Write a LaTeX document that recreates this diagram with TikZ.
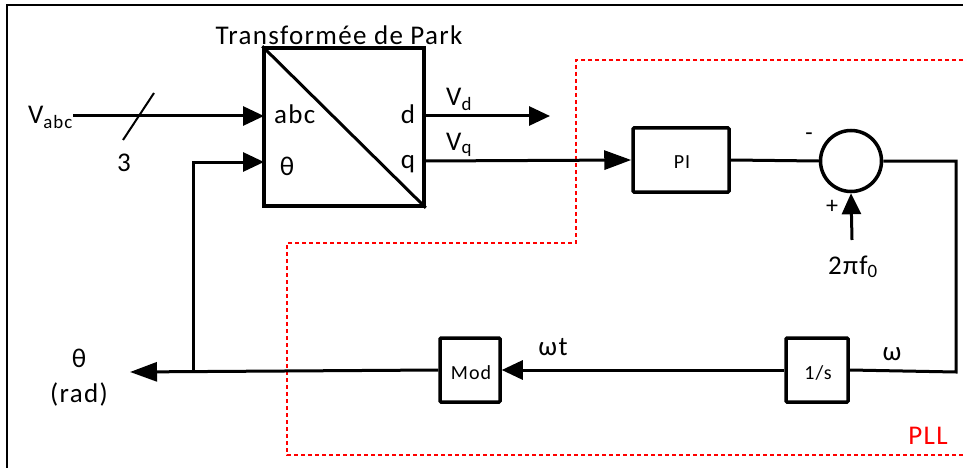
\documentclass[tikz,border=0pt]{standalone}
\usepackage{fontspec}
\setmainfont{Carlito}[LetterSpace=5]
\usetikzlibrary{arrows.meta}
\begin{document}
\begin{tikzpicture}[x=1pt,y=-1pt,
  wire/.style={line width=3pt},
  arr/.style={wire,-{Triangle[length=21pt,width=19pt]}},
  arrlong/.style={wire,-{Triangle[length=27pt,width=19pt]}},
  blk/.style={draw,line width=3.5pt,inner sep=0pt,rounded corners=1pt},
  lbl/.style={font=\fontsize{27}{29}\selectfont,inner sep=0pt,anchor=base},
  small/.style={font=\fontsize{20}{22}\selectfont,inner sep=0pt,anchor=base},
  pll/.style={red,line width=2pt,dash pattern=on 4pt off 3pt}]
\useasboundingbox (0,0) rectangle (963,468);
% frame
\draw[line width=2pt] (7,468) -- (7,5) -- (963,5);
% PLL region
\draw[pll] (963,60) -- (576,60) -- (576,243) -- (287,243) -- (287,455) -- (963,455);
\node[lbl,text=red] (pll) at (928,444) {PLL};
% Park block
\node[draw,line width=3.5pt,inner sep=0pt,minimum width=160pt,minimum height=158pt] (park) at (344,127) {};
\draw[line width=3pt] (park.north west) -- (park.south east);
\node[lbl] (title) at (339,45) {Transformée de Park};
\node[lbl,anchor=base west] (labc) at (274,124) {abc};
\node[lbl] (lth) at (287,175) {θ};
\node[lbl] (ld) at (408,124) {d};
\node[lbl] (lq) at (408,168) {q};
\coordinate (pabc) at (264,116);
\coordinate (pth) at (264,162);
\coordinate (pd) at (424,116);
\coordinate (pq) at (424,161);
% input
\node[lbl,anchor=base east] (vabc) at (73,124) {V\textsubscript{abc}};
\draw[arr] (vabc.east |- pabc) -- (pabc);
\coordinate (s1) at (123,140);
\coordinate (s2) at (154,93);
\draw[line width=2pt] (s1) -- (s2);
\node[lbl] (three) at (124,171) {3};
% d output
\coordinate (dend) at (550,116);
\draw[arr] (pd) -- (dend);
\node[lbl,anchor=base west] (vd) at (446,106) {V\textsubscript{d}};
% q output
\node[blk,minimum width=96pt,minimum height=64pt] (pi) at (681,160) {};
\node[small] (pit) at (682,168) {PI};
\draw[arrlong] (pq) -- (pi.west);
\node[lbl,anchor=base west] (vq) at (446,150) {V\textsubscript{q}};
% summation
\node[draw,circle,line width=3.5pt,minimum size=61pt,inner sep=0pt] (sum) at (851,161) {};
\draw[wire] (pi.east) -- (sum.west);
\node[font=\fontsize{24}{26}\selectfont,inner sep=0pt] (minus) at (809,137) {-};
\node[font=\fontsize{24}{26}\selectfont,inner sep=0pt] (plus) at (832,207) {+};
\node[lbl] (f0) at (853,274) {2πf\textsubscript{0}};
\coordinate (f0top) at (852,240);
\draw[arr] (f0top) -- (sum.south);
% integrator
\node[blk,minimum width=62pt,minimum height=64pt] (integ) at (817,370) {};
\node[small] (integt) at (818,379) {1/s};
\coordinate (cr) at (956,372);
\draw[wire] (sum.east) -| (cr) -- (integ.east);
\node[lbl] (om) at (892,360) {ω};
% mod
\node[blk,minimum width=60pt,minimum height=64pt] (mod) at (470,370) {};
\node[small] (modt) at (471,379) {Mod};
\draw[arr] (integ.west) -- (mod.east);
\node[lbl] (omt) at (553,355) {ωt};
% theta output
\coordinate (thend) at (130,372);
\coordinate (j) at (193,372);
\draw[arrlong] (mod.west) -- (thend);
\draw[arr] (j) |- (pth);
\node[lbl] (tho) at (79,367) {θ};
\node[lbl] (rad) at (79,402) {(rad)};
\end{tikzpicture}
\end{document}
